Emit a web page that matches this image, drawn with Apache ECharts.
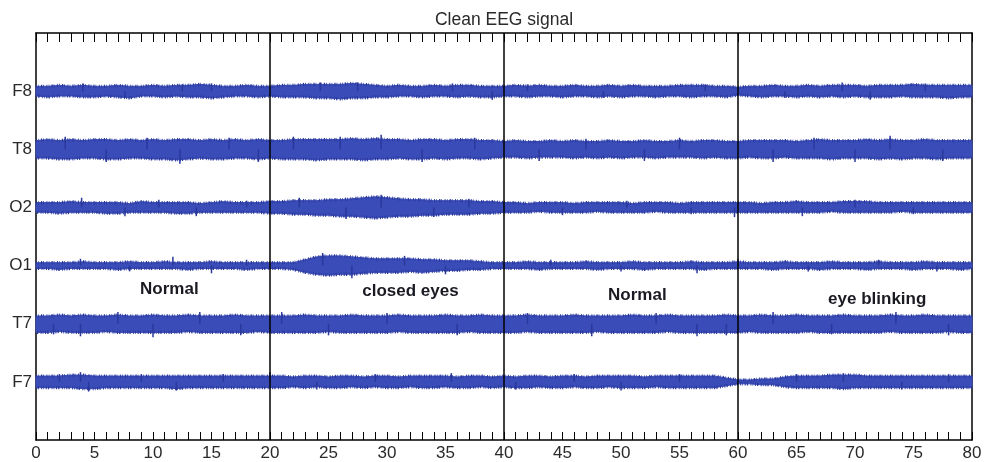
<!DOCTYPE html>
<html>
<head>
<meta charset="utf-8">
<script src="https://cdn.jsdelivr.net/npm/echarts@6/dist/echarts.min.js"></script>
<style>
  html, body { margin: 0; padding: 0; background: #fff; }
  #chart { width: 989px; height: 462px; }
</style>
</head>
<body>
<div id="chart"></div>
<script>
// Channel names, top to bottom
const channels = ['F8', 'T8', 'O2', 'O1', 'T7', 'F7'];
// Vertical spacing between channel traces (µV)
const channelSpacing = 60;
// Recording condition per 20 s block
const conditions = ['Normal', 'closed eyes', 'Normal', 'eye blinking'];
const conditionLabelPos = [[11.4, 156], [32.0, 153], [51.4, 149], [71.9, 145]];
const blockBounds = [20, 40, 60];
const xTicks = [0, 80, 5];

// Signal envelope, one sample per second (t = 0..80 s): upper / lower excursion in µV
const F8_hi = [5,5,6,5,6,5,5,6,5,5, 6,5,6,6,7,6,5,5,6,5, 5,6,6,7,7,7,7,8,7,6, 5,6,5,5,6,5,6,6,5,5, 5,6,5,6,5,5,6,5,5,6, 5,6,5,5,5,6,6,6,5,5, 4,5,5,6,5,5,6,5,6,6, 6,5,6,6,6,7,6,6,6,6, 6];
const F8_lo = [5,6,5,5,6,6,5,6,7,5, 5,6,5,6,6,7,6,5,5,6, 5,6,6,6,7,7,8,7,7,6, 6,5,5,6,5,5,6,5,6,6, 5,5,6,5,5,6,5,5,6,5, 6,5,5,6,5,5,6,5,5,6, 4,5,6,5,5,6,5,6,5,6, 5,6,6,6,5,6,6,6,7,6, 6];
const T8_hi = [9,10,9,10,9,10,10,9,10,9, 10,9,10,10,9,10,9,10,9,10, 9,9,10,10,10,10,10,11,10,11, 10,10,9,10,10,9,10,10,9,9, 8,9,8,8,9,8,9,8,8,9, 8,8,9,8,8,9,8,9,9,8, 8,9,9,9,9,8,9,10,9,9, 9,10,9,10,9,9,10,9,9,9, 9];
const T8_lo = [9,9,10,10,9,9,10,10,9,9, 10,10,11,10,9,10,10,9,9,10, 9,10,10,10,11,10,10,10,11,10, 10,9,10,10,9,10,9,9,10,9, 8,8,9,8,8,8,9,8,9,8, 9,8,8,9,8,8,8,9,8,9, 9,8,9,9,8,9,9,9,10,9, 9,9,10,9,10,9,9,10,9,9, 9];
const O2_hi = [5,5,5,6,5,5,5,5,4,6, 5,5,5,5,4,5,6,5,5,5, 6,6,7,7,7,8,8,9,10,11, 10,9,8,8,7,7,7,7,6,6, 5,5,4,5,5,5,4,5,5,5, 5,4,5,5,5,4,5,5,5,5, 5,5,4,5,5,6,5,5,5,6, 6,6,5,5,5,5,5,5,5,5, 5];
const O2_lo = [5,5,6,5,5,5,6,6,5,5, 5,5,6,6,5,5,5,5,5,5, 6,6,7,7,8,8,9,9,10,11, 10,9,9,8,8,7,7,7,6,6, 5,5,5,4,5,5,5,5,4,5, 5,5,5,4,5,5,5,5,5,5, 5,5,5,5,5,5,5,5,4,5, 5,5,5,5,4,5,5,5,5,5, 5];
const O1_hi = [3,3,3,3,4,3,3,3,4,3, 3,4,3,3,3,4,3,3,3,3, 3,3,3,6,9,10,10,9,8,7, 7,7,7,6,6,5,5,5,4,3, 3,3,4,3,3,3,3,4,3,3, 3,4,3,3,3,3,4,3,3,3, 4,3,3,3,4,3,3,3,4,3, 3,3,4,3,3,3,4,3,3,3, 3];
const O1_lo = [3,3,4,3,3,3,3,4,3,3, 3,3,3,4,3,3,3,3,4,3, 3,3,4,7,9,10,9,9,8,7, 7,7,6,7,6,5,5,4,4,3, 3,3,3,4,3,3,3,3,4,3, 3,3,4,3,3,3,3,4,3,3, 3,3,3,4,3,3,3,4,3,3, 3,4,3,3,3,4,3,3,3,4, 3];
const T7_hi = [8,8,9,8,9,8,8,9,8,8, 9,8,8,9,8,8,8,9,8,8, 8,8,8,9,8,8,8,9,8,8, 8,9,8,8,8,9,8,8,9,8, 8,8,9,8,8,8,9,8,8,8, 8,9,8,8,9,8,8,8,8,9, 8,8,9,8,8,9,8,8,8,9, 8,8,8,9,8,8,9,8,8,8, 8];
const T7_lo = [9,9,8,9,9,9,8,9,9,9, 9,9,9,8,9,9,9,9,9,8, 9,9,9,9,9,8,9,9,9,9, 9,8,9,9,9,9,9,8,9,9, 9,9,8,9,9,9,9,9,8,9, 9,9,9,9,8,9,9,9,9,9, 9,8,9,9,9,9,8,9,9,9, 9,9,9,8,9,9,9,9,8,9, 9];
const F7_hi = [6,6,6,7,7,6,6,6,6,6, 6,6,6,6,6,6,6,6,6,6, 6,6,5,6,6,5,6,6,5,6, 6,5,6,6,6,6,5,6,6,5, 6,5,6,6,5,6,6,5,6,6, 6,6,5,6,6,6,6,6,6,4, 2,2,3,3,5,6,6,6,7,7, 7,6,6,6,6,6,6,6,6,6, 6];
const F7_lo = [6,6,6,6,7,7,6,6,6,6, 6,6,7,6,6,6,6,6,6,6, 6,6,5,6,5,6,6,5,6,5, 6,6,5,6,6,5,6,6,5,6, 5,6,6,5,6,6,5,6,6,5, 6,6,6,5,6,6,6,6,6,4, 2,2,3,3,5,6,6,6,6,7, 6,6,6,6,6,6,6,6,6,6, 6];

// Isolated transients: [time s, channel, peak µV (+ up / - down)]
const spikes = [
  [4.0,'F8',8],[7.6,'F8',-7],[12.5,'F8',7],[15.0,'F8',8],[24.3,'F8',9],[27.5,'F8',9],[35.6,'F8',8],[39.0,'F8',-9],[42.0,'F8',7],[48.5,'F8',-7],[57.2,'F8',7],[64.0,'F8',-7],[68.9,'F8',9],[71.3,'F8',-9],[76.0,'F8',8],
  [2.5,'T8',13],[6.0,'T8',-13],[9.5,'T8',12],[12.3,'T8',-15],[16.5,'T8',12],[19.0,'T8',-13],[22.0,'T8',13],[26.0,'T8',13],[29.5,'T8',15],[33.0,'T8',-13],[37.5,'T8',12],[43.0,'T8',-12],[47.0,'T8',11],[52.0,'T8',-12],[55.0,'T8',12],[63.0,'T8',-13],[66.5,'T8',12],[70.0,'T8',-13],[73.0,'T8',14],[77.5,'T8',-12],
  [3.9,'O2',10],[7.6,'O2',-9],[10.5,'O2',8],[13.7,'O2',-9],[18.0,'O2',7],[22.5,'O2',10],[26.5,'O2',-12],[29.5,'O2',13],[34.0,'O2',-10],[37.0,'O2',9],[45.0,'O2',-8],[50.5,'O2',7],[56.0,'O2',-7],[59.7,'O2',-10],[65.5,'O2',-9],[70.0,'O2',8],[75.0,'O2',-7],
  [3.8,'O1',7],[8.0,'O1',-6],[11.7,'O1',9],[15.0,'O1',-8],[18.0,'O1',6],[24.5,'O1',13],[27.0,'O1',-13],[31.5,'O1',10],[35.0,'O1',-9],[44.0,'O1',6],[50.0,'O1',-6],[56.5,'O1',-8],[60.0,'O1',7],[66.0,'O1',-6],[72.0,'O1',6],[77.0,'O1',-6],
  [1.5,'T7',-11],[3.8,'T7',-13],[7.0,'T7',12],[10.0,'T7',-14],[14.0,'T7',12],[17.5,'T7',-12],[21.0,'T7',12],[25.0,'T7',-12],[30.0,'T7',11],[36.0,'T7',-12],[42.0,'T7',11],[47.5,'T7',-13],[53.0,'T7',11],[56.5,'T7',-13],[59.0,'T7',-12],[63.0,'T7',12],[68.0,'T7',-11],[73.5,'T7',12],[78.0,'T7',-12],
  [2.0,'F7',8],[3.8,'F7',10],[4.5,'F7',-10],[9.0,'F7',8],[12.0,'F7',-9],[16.0,'F7',8],[20.0,'F7',10],[24.0,'F7',-8],[29.0,'F7',8],[35.5,'F7',9],[41.0,'F7',-8],[46.0,'F7',8],[50.0,'F7',-9],[55.0,'F7',8],[65.0,'F7',8],[69.0,'F7',9],[74.0,'F7',-8],[78.0,'F7',8]
];

const envelopes = {
  F8: [F8_hi, F8_lo], T8: [T8_hi, T8_lo], O2: [O2_hi, O2_lo],
  O1: [O1_hi, O1_lo], T7: [T7_hi, T7_lo], F7: [F7_hi, F7_lo]
};

const coreColor = '#3a4cb8';
const edgeColor = '#2a389c';
const fontFamily = '"Liberation Sans", Arial, sans-serif';
const baseline = name => (channels.length - channels.indexOf(name)) * channelSpacing;

const chart = echarts.init(document.getElementById('chart'), null, { renderer: 'canvas' });

const axisLineStyle = { color: '#000', width: 1.5 };
const tickStyle = { color: '#000', width: 1 };

const option = {
  backgroundColor: '#fff',
  animation: false,
  grid: { left: 36, right: 17, top: 33, bottom: 21, containLabel: false },
  graphic: [{
    type: 'text', x: 504, y: 20,
    style: { text: 'Clean EEG signal', fontSize: 17.5, fontFamily, fill: '#2a2a2a', align: 'center', verticalAlign: 'middle' }
  }],
  xAxis: [
    {
      type: 'value', position: 'bottom', min: xTicks[0], max: xTicks[1], interval: xTicks[2],
      axisLine: { show: true, onZero: false, lineStyle: axisLineStyle },
      axisTick: { show: true, inside: true, length: 8, lineStyle: tickStyle },
      minorTick: { show: true, splitNumber: 5, length: 8, lineStyle: tickStyle },
      axisLabel: { color: '#2a2a2a', fontSize: 17, fontFamily, margin: 5 },
      splitLine: { show: false }
    },
    {
      type: 'value', position: 'top', min: xTicks[0], max: xTicks[1], interval: xTicks[2],
      axisLine: { show: true, onZero: false, lineStyle: axisLineStyle },
      axisTick: { show: true, inside: true, length: 9, lineStyle: tickStyle },
      minorTick: { show: true, splitNumber: 5, length: 9, lineStyle: tickStyle },
      axisLabel: { show: false },
      splitLine: { show: false }
    }
  ],
  yAxis: [
    {
      type: 'value', position: 'left', min: 0, max: (channels.length + 1) * channelSpacing, interval: channelSpacing,
      axisLine: { show: true, onZero: false, lineStyle: axisLineStyle },
      axisTick: { show: false },
      axisLabel: {
        color: '#2a2a2a', fontSize: 17, fontFamily, margin: 4,
        formatter: v => {
          const idx = channels.length - Math.round(v / channelSpacing);
          return (idx >= 0 && idx < channels.length && v > 0) ? channels[idx] : '';
        }
      },
      splitLine: { show: false }
    },
    {
      type: 'value', position: 'right', min: 0, max: (channels.length + 1) * channelSpacing,
      axisLine: { show: true, onZero: false, lineStyle: axisLineStyle },
      axisTick: { show: false }, axisLabel: { show: false }, splitLine: { show: false }
    }
  ],
  series: [
    {
      // amplitude band of each channel, with a bristled outline
      type: 'custom',
      name: 'envelope',
      xAxisIndex: 0, yAxisIndex: 0,
      data: channels.map((c, i) => [0, baseline(c), i]),
      renderItem: (params, api) => {
        const name = channels[api.value(2)];
        const y0 = baseline(name);
        const [hi, lo] = envelopes[name];
        const top = [], bottom = [];
        for (let i = 0; i < hi.length; i++) top.push(api.coord([i, y0 + hi[i]]));
        for (let i = lo.length - 1; i >= 0; i--) bottom.push(api.coord([i, y0 - lo[i]]));
        return {
          type: 'group',
          children: [
            {
              type: 'polygon',
              shape: { points: top.concat(bottom) },
              style: { fill: coreColor, stroke: coreColor, lineWidth: 1 }
            },
            {
              type: 'polyline',
              shape: { points: top },
              style: { fill: null, stroke: edgeColor, lineWidth: 3.2, lineDash: [0.9, 1.4, 0.6, 2.1, 1.2, 1.0, 0.7, 2.6] }
            },
            {
              type: 'polyline',
              shape: { points: bottom },
              style: { fill: null, stroke: edgeColor, lineWidth: 3.2, lineDash: [1.1, 1.6, 0.7, 1.2, 0.9, 2.4, 1.3, 1.1] }
            }
          ]
        };
      },
      silent: true,
      z: 2
    },
    {
      // transient deflections
      type: 'custom',
      name: 'spikes',
      xAxisIndex: 0, yAxisIndex: 0,
      data: spikes.map(s => [s[0], baseline(s[1]) + s[2], baseline(s[1])]),
      renderItem: (params, api) => {
        const a = api.coord([api.value(0), api.value(2)]);
        const b = api.coord([api.value(0), api.value(1)]);
        return {
          type: 'line',
          shape: { x1: a[0], y1: a[1], x2: b[0], y2: b[1] },
          style: { stroke: edgeColor, lineWidth: 1.5 }
        };
      },
      silent: true,
      z: 2
    },
    {
      // boundaries between recording blocks
      type: 'line',
      name: 'blocks',
      data: [],
      markLine: {
        silent: true, symbol: 'none',
        label: { show: false },
        lineStyle: { color: '#000', width: 1.5, type: 'solid' },
        data: blockBounds.map(x => ({ xAxis: x }))
      },
      z: 3
    },
    {
      // condition captions
      type: 'custom',
      name: 'conditions',
      xAxisIndex: 0, yAxisIndex: 0,
      data: conditions.map((c, i) => [conditionLabelPos[i][0], conditionLabelPos[i][1], i]),
      renderItem: (params, api) => {
        const p = api.coord([api.value(0), api.value(1)]);
        return {
          type: 'text',
          x: p[0], y: p[1],
          style: {
            text: conditions[api.value(2)],
            fill: '#1a1a22', fontSize: 17, fontWeight: 'bold', fontFamily,
            align: 'center', verticalAlign: 'middle'
          }
        };
      },
      silent: true,
      z: 4
    }
  ]
};

chart.setOption(option);
</script>
</body>
</html>
